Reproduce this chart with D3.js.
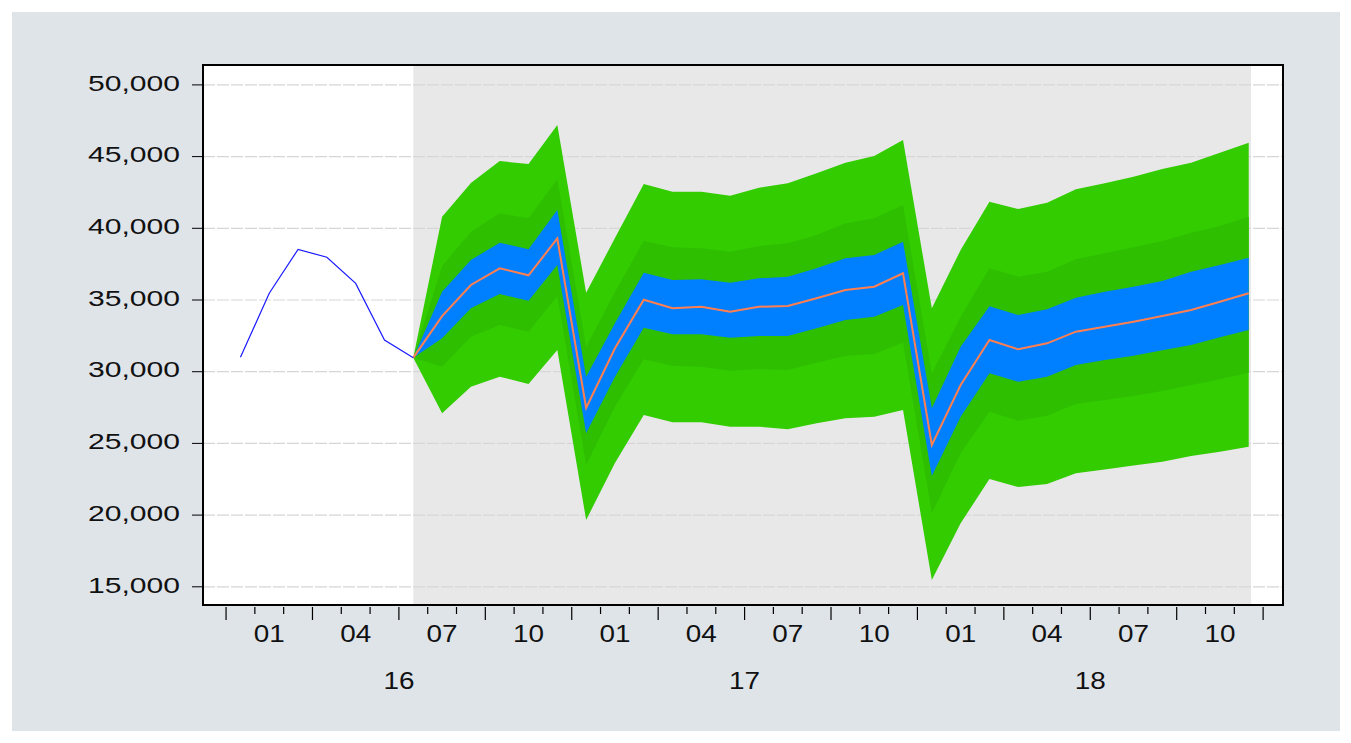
<!DOCTYPE html>
<html>
<head>
<meta charset="utf-8">
<script src="https://d3js.org/d3.v7.min.js"></script>
<style>
  body { margin: 0; background: #ffffff; }
  text { font-family: "Liberation Sans", Arial, sans-serif; fill: #111; }
</style>
</head>
<body>
<div class="chart"></div>
<script>

// periods, Dec 2015 .. Nov 2018
const PERIODS = ["2015M12",
  "2016M01","2016M02","2016M03","2016M04","2016M05","2016M06","2016M07","2016M08","2016M09","2016M10","2016M11","2016M12",
  "2017M01","2017M02","2017M03","2017M04","2017M05","2017M06","2017M07","2017M08","2017M09","2017M10","2017M11","2017M12",
  "2018M01","2018M02","2018M03","2018M04","2018M05","2018M06","2018M07","2018M08","2018M09","2018M10","2018M11"];

const Y_TICKS = [15000, 20000, 25000, 30000, 35000, 40000, 45000, 50000];
const MONTH_LABELS = ["01", "04", "07", "10"];
const YEAR_LABELS = ["16", "17", "18"];

// actual series, 2015M12 .. 2016M06
const HIST = [31000, 35470, 38530, 37980, 36160, 32210, 30980];

// forecast fan, 2016M06 .. 2018M11
const MEDIAN = [30980, 33880, 36050, 37210, 36720, 39290, 27470, 31630, 35020, 34420, 34530, 34180,
  34530, 34580, 35120, 35700, 35930, 36860, 24890, 29070, 32210, 31560, 31980, 32790, 33140, 33490,
  33880, 34300, 34880, 35470];
const BLUE_UP = [30980, 35580, 37790, 39000, 38540, 41280, 29650, 33380, 36900, 36400, 36440, 36210,
  36510, 36630, 37210, 37910, 38140, 39070, 27450, 31740, 34560, 33950, 34350, 35160, 35580, 35930,
  36330, 36970, 37440, 37950];
const BLUE_LO = [30980, 32330, 34420, 35420, 34950, 37440, 25700, 29650, 33070, 32610, 32610, 32370,
  32490, 32490, 33030, 33610, 33840, 34650, 22730, 26860, 29890, 29300, 29650, 30470, 30820, 31120,
  31490, 31860, 32400, 32910];
const DARK_UP = [30980, 37370, 39760, 41050, 40700, 43440, 31740, 35560, 39140, 38680, 38610, 38370,
  38770, 38950, 39530, 40350, 40700, 41630, 29890, 33840, 37210, 36630, 36970, 37840, 38260, 38680,
  39110, 39690, 40160, 40810];
const DARK_LO = [30980, 30350, 32440, 33260, 32790, 35280, 23490, 27560, 30870, 30400, 30350, 30070,
  30170, 30120, 30630, 31100, 31230, 32020, 20130, 24310, 27210, 26580, 26930, 27750, 28030, 28310,
  28650, 29070, 29470, 29930];
const OUTER_UP = [30980, 40810, 43160, 44690, 44480, 47200, 35510, 39320, 43090, 42550, 42550, 42270,
  42830, 43140, 43840, 44580, 45040, 46160, 34420, 38490, 41860, 41350, 41790, 42720, 43140, 43600,
  44140, 44580, 45270, 45970];
const OUTER_LO = [30980, 27100, 28950, 29650, 29140, 31510, 19660, 23630, 26980, 26470, 26470, 26170,
  26170, 25980, 26400, 26750, 26860, 27330, 15470, 19430, 22520, 21960, 22170, 22920, 23180, 23460,
  23720, 24120, 24420, 24770];

const FC_START = HIST.length - 1;

const FRAME_WIDTH = 1351;
const FRAME_HEIGHT = 743;
const PLOT = {left: 203, right: 1283, top: 65, bottom: 605};

const SVG = d3.select(".chart")
  .append("svg")
  .attr("width", FRAME_WIDTH)
  .attr("height", FRAME_HEIGHT);

// outer panel
SVG.append("rect")
  .attr("x", 12).attr("y", 12)
  .attr("width", 1328).attr("height", 719)
  .attr("fill", "#dfe4e9");

const X_SCALE = d3.scaleLinear()
  .domain([-1.3, 36.19])
  .range([PLOT.left, PLOT.right]);

const Y_SCALE = d3.scaleLinear()
  .domain([13731, 51388])
  .range([PLOT.bottom, PLOT.top]);

// plot background
SVG.append("rect")
  .attr("x", PLOT.left).attr("y", PLOT.top)
  .attr("width", PLOT.right - PLOT.left)
  .attr("height", PLOT.bottom - PLOT.top)
  .attr("fill", "#ffffff");

// forecast shading
SVG.append("rect")
  .attr("x", X_SCALE(FC_START))
  .attr("y", PLOT.top)
  .attr("width", X_SCALE(PERIODS.length - 1 + 0.08) - X_SCALE(FC_START))
  .attr("height", PLOT.bottom - PLOT.top)
  .attr("fill", "#e8e8e8");

// gridlines
SVG.append("g")
  .selectAll("line")
  .data(Y_TICKS)
  .enter()
  .append("line")
    .attr("x1", PLOT.left)
    .attr("x2", PLOT.right)
    .attr("y1", (d) => Y_SCALE(d))
    .attr("y2", (d) => Y_SCALE(d))
    .attr("stroke", "#d6d6d6")
    .attr("stroke-width", 1.2)
    .attr("stroke-dasharray", "12,2");

// fan bands
function band(up, lo, color) {
  const area = d3.area()
    .x((d, i) => X_SCALE(FC_START + i))
    .y0((d, i) => Y_SCALE(lo[i]))
    .y1((d) => Y_SCALE(d));
  SVG.append("path")
    .datum(up)
    .attr("d", area)
    .attr("fill", color);
}

band(OUTER_UP, OUTER_LO, "#33cc00");
band(DARK_UP, DARK_LO, "#2ebf00");
band(BLUE_UP, BLUE_LO, "#0080ff");

// median forecast
SVG.append("path")
  .datum(MEDIAN)
  .attr("d", d3.line()
    .x((d, i) => X_SCALE(FC_START + i))
    .y((d) => Y_SCALE(d)))
  .attr("fill", "none")
  .attr("stroke", "#ff7f50")
  .attr("stroke-width", 2);

// actual series
SVG.append("path")
  .datum(HIST)
  .attr("d", d3.line()
    .x((d, i) => X_SCALE(i))
    .y((d) => Y_SCALE(d)))
  .attr("fill", "none")
  .attr("stroke", "#1a1aff")
  .attr("stroke-width", 1.2);

// frame
SVG.append("rect")
  .attr("x", PLOT.left).attr("y", PLOT.top)
  .attr("width", PLOT.right - PLOT.left)
  .attr("height", PLOT.bottom - PLOT.top)
  .attr("fill", "none")
  .attr("stroke", "#000")
  .attr("stroke-width", 2);

// y axis
const Y_AXIS = SVG.append("g");
Y_AXIS.selectAll("line")
  .data(Y_TICKS)
  .enter()
  .append("line")
    .attr("x1", PLOT.left - 11)
    .attr("x2", PLOT.left)
    .attr("y1", (d) => Y_SCALE(d))
    .attr("y2", (d) => Y_SCALE(d))
    .attr("stroke", "#000")
    .attr("stroke-width", 1);

Y_AXIS.selectAll("text")
  .data(Y_TICKS)
  .enter()
  .append("text")
    .attr("x", 180)
    .attr("y", (d) => Y_SCALE(d) - 2)
    .attr("dy", "0.35em")
    .attr("text-anchor", "end")
    .attr("font-size", "22px")
    .attr("textLength", 92)
    .attr("lengthAdjust", "spacingAndGlyphs")
    .text(d3.format(","));

// x axis ticks at period boundaries
const BOUNDS = d3.range(PERIODS.length + 1).map((i) => i - 0.5);
SVG.append("g")
  .selectAll("line")
  .data(BOUNDS)
  .enter()
  .append("line")
    .attr("x1", (d) => X_SCALE(d))
    .attr("x2", (d) => X_SCALE(d))
    .attr("y1", PLOT.bottom + 2)
    .attr("y2", (d) => ((d + 0.5) % 3 === 0) ? PLOT.bottom + 15 : PLOT.bottom + 9)
    .attr("stroke", "#000")
    .attr("stroke-width", 1.2);

// month labels
const MONTH_IDX = PERIODS.map((p, i) => i)
  .filter((i) => MONTH_LABELS.includes(PERIODS[i].slice(5)));
SVG.append("g")
  .selectAll("text")
  .data(MONTH_IDX)
  .enter()
  .append("text")
    .attr("x", (i) => X_SCALE(i))
    .attr("y", 642)
    .attr("text-anchor", "middle")
    .attr("font-size", "24px")
    .attr("textLength", 31)
    .attr("lengthAdjust", "spacingAndGlyphs")
    .text((i) => PERIODS[i].slice(5));

// year labels
SVG.append("g")
  .selectAll("text")
  .data(YEAR_LABELS)
  .enter()
  .append("text")
    .attr("x", (d, k) => X_SCALE(12 * k + 5.5))
    .attr("y", 689)
    .attr("text-anchor", "middle")
    .attr("font-size", "24px")
    .attr("textLength", 31)
    .attr("lengthAdjust", "spacingAndGlyphs")
    .text((d) => d);

</script>
</body>
</html>
